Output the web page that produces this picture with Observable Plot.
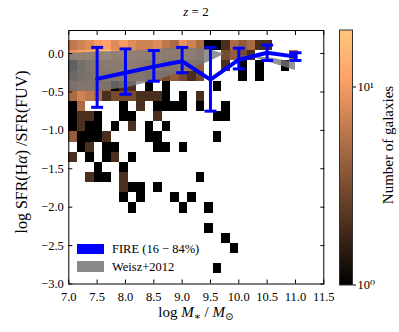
<!DOCTYPE html>
<html><head><meta charset="utf-8">
<script src="https://cdn.jsdelivr.net/npm/d3@7"></script>
<script src="https://cdn.jsdelivr.net/npm/@observablehq/plot@0.6"></script>
<style>
body{margin:0;background:#fff;}
#wrap{position:relative;width:399px;height:332px;font-family:"Liberation Serif","DejaVu Serif",serif;color:#000;overflow:hidden;}
#wrap svg{position:absolute;left:0;top:0;}
.lbl{position:absolute;white-space:nowrap;line-height:1;}
.lbl sub{font-size:0.7em;vertical-align:-0.25em;}
.patch{position:absolute;width:27px;height:10px;}
</style></head><body><div id="wrap"></div>
<script>
// ---- histogram bins ----
const xEdgeStart = 7.0, xBinWidth = 0.15;
const yEdgeStart = -3.0, yBinHeight = 0.132;
const topRowIndex = 23;
// counts per row, from row 23 (top) down to row 0; columns 0..26
const countRows = [
 [6,7,8,10,11,8,10,8,7,7,8,6,5,9,7,5,1,1,2,5,4,5,2,2,0,0,0],
 [9,10,12,11,18,10,12,10,9,9,8,7,7,9,8,6,0,0,3,4,3,2,0,0,0,0,5],
 [1,3,5,6,7,7,8,8,7,6,7,5,5,6,5,4,0,0,2,0,1,0,1,0,0,1,0],
 [2,3,4,5,5,6,5,5,5,4,4,3,4,3,2,3,0,0,0,0,1,0,1,0,0,0,0],
 [4,5,5,4,4,1,2,2,0,1,0,1,0,0,0,0,0,1,0,0,0,0,0,0,0,0,0],
 [5,7,6,5,2,3,3,3,2,2,2,1,0,1,0,2,0,0,0,0,0,0,0,0,0,0,0],
 [1,5,0,0,0,0,1,0,2,0,1,1,1,1,0,1,0,0,1,0,0,0,0,0,0,0,0],
 [1,2,2,1,0,0,1,1,0,0,2,0,0,0,0,0,0,1,1,0,0,0,0,0,0,0,0],
 [1,2,1,1,0,1,0,2,0,1,0,1,0,0,0,0,0,0,0,0,0,0,0,0,0,0,0],
 [4,1,1,1,2,0,0,0,0,1,1,0,0,0,0,0,0,1,0,0,0,0,0,0,0,0,0],
 [0,1,2,0,1,1,0,0,0,0,1,1,0,1,0,0,0,0,0,0,0,0,0,0,0,0,0],
 [2,0,1,0,1,2,0,1,0,0,0,0,0,0,0,0,0,0,0,0,0,0,0,0,0,0,0],
 [0,0,0,1,0,0,1,0,0,0,0,0,0,0,0,0,0,0,0,0,0,0,0,0,0,0,0],
 [0,0,2,1,1,0,2,0,0,0,0,0,0,0,0,1,0,0,0,0,0,0,0,0,0,0,0],
 [0,0,0,0,0,0,2,1,1,0,1,0,0,0,0,0,0,0,0,0,0,0,0,0,0,0,0],
 [0,0,0,0,0,0,1,0,1,0,0,0,1,0,1,0,0,0,0,0,0,0,0,0,0,0,0],
 [0,0,0,0,0,0,0,1,0,0,0,0,0,1,0,0,1,0,0,0,0,0,0,0,0,0,0],
 [0,0,0,0,0,0,0,0,0,0,0,0,0,0,0,0,0,0,0,0,0,0,0,0,0,0,0],
 [0,0,0,0,0,0,0,0,0,0,0,0,0,0,0,0,1,0,0,0,0,0,0,0,0,0,0],
 [0,0,0,0,0,0,0,0,0,0,0,0,0,0,0,0,0,0,1,0,0,0,0,0,0,0,0],
 [0,0,0,0,0,0,0,0,0,0,0,0,0,0,0,0,0,0,0,1,0,0,0,0,0,0,0],
 [0,0,0,0,0,0,0,0,0,0,0,0,0,0,0,0,0,0,0,0,0,0,0,0,0,0,0],
 [0,0,0,0,0,0,0,0,0,0,0,0,0,0,0,0,0,1,0,0,0,0,0,0,0,0,0],
 [0,0,0,0,0,0,0,0,0,0,0,0,0,0,0,0,0,0,0,0,0,0,0,0,0,0,0]
];
// ---- FIRE median and 16-84% ----
const fireX   = [7.5, 8.0, 8.5, 9.0, 9.5, 10.0, 10.5, 11.0];
const fireMed = [-0.33, -0.25, -0.17, -0.10, -0.34, -0.08, 0.01, -0.04];
const fireLo  = [-0.70, -0.53, -0.36, -0.25, -0.75, -0.20, -0.09, -0.09];
const fireHi  = [0.08, 0.06, 0.04, 0.08, 0.08, 0.07, 0.11, 0.01];
// ---- Weisz+2012 band ----
const weiszX  = [7.0, 7.5, 8.0, 8.5, 9.0, 9.5, 9.75, 10.0, 10.3, 10.6, 11.0];
const weiszHi = [0.00, 0.02, 0.03, 0.05, 0.08, 0.05, -0.01, -0.03, -0.04, -0.06, -0.12];
const weiszLo = [-0.49, -0.49, -0.45, -0.36, -0.24, -0.10, -0.01, -0.04, -0.06, -0.13, -0.22];
// ---- ticks ----
const xTicks = [7.0, 7.5, 8.0, 8.5, 9.0, 9.5, 10.0, 10.5, 11.0, 11.5];
const yTicks = [0.0, -0.5, -1.0, -1.5, -2.0, -2.5, -3.0];
const cbTicks = [1, 10];
const cbTickLabels = ["10⁰", "10¹"];
const colorDomain = [1, 19.4];

const copper = t => `rgb(${Math.round(255*Math.min(1, t/0.809524))},${Math.round(255*0.7812*t)},${Math.round(255*0.4975*t)})`;

const cells = [];
countRows.forEach((row, r) => {
  const j = topRowIndex - r;
  row.forEach((c, i) => {
    if (c > 0) cells.push({
      x1: xEdgeStart + i*xBinWidth, x2: xEdgeStart + (i+1)*xBinWidth,
      y1: yEdgeStart + j*yBinHeight, y2: yEdgeStart + (j+1)*yBinHeight, count: c
    });
  });
});
const fire = fireX.map((x, k) => ({x, med: fireMed[k], lo: fireLo[k], hi: fireHi[k]}));
const weisz = weiszX.map((x, k) => ({x, lo: weiszLo[k], hi: weiszHi[k]}));

const capSymbol = {draw(ctx, size) { const r = 6; ctx.moveTo(-r, 0); ctx.lineTo(r, 0); }};
const fmt = d3.format(".1f");
const blank = () => "";
const font = {fontFamily: "Liberation Serif, DejaVu Serif, serif", fontSize: "12.5px", background: "transparent", overflow: "visible"};

const main = Plot.plot({
  width: 399, height: 332,
  marginTop: 30, marginBottom: 48.5, marginLeft: 68.3, marginRight: 75.7,
  style: font,
  x: {domain: [7, 11.5], label: null},
  y: {domain: [-3, 0.3], label: null},
  color: {type: "log", domain: colorDomain, interpolate: copper},
  marks: [
    Plot.rect(cells, {x1: "x1", x2: "x2", y1: "y1", y2: "y2", fill: "count", shapeRendering: "crispEdges"}),
    Plot.areaY(weisz, {x: "x", y1: "lo", y2: "hi", fill: "#787878", fillOpacity: 0.8}),
    Plot.ruleX(fire, {x: "x", y1: "lo", y2: "hi", stroke: "#0000ff", strokeWidth: 3}),
    Plot.dot(fire, {x: "x", y: "lo", symbol: capSymbol, stroke: "#0000ff", strokeWidth: 3, r: 6}),
    Plot.dot(fire, {x: "x", y: "hi", symbol: capSymbol, stroke: "#0000ff", strokeWidth: 3, r: 6}),
    Plot.line(fire, {x: "x", y: "med", stroke: "#0000ff", strokeWidth: 4}),
    Plot.frame({stroke: "#000", strokeWidth: 1}),
    Plot.axisX({anchor: "bottom", ticks: xTicks, tickFormat: fmt, tickSize: -4, tickPadding: 12, label: null}),
    Plot.axisX({anchor: "top", ticks: xTicks, tickFormat: blank, tickSize: -4, label: null}),
    Plot.axisY({anchor: "left", ticks: yTicks, tickFormat: fmt, tickSize: -4, tickPadding: 9, label: null}),
    Plot.axisY({anchor: "right", ticks: yTicks, tickFormat: blank, tickSize: -4, label: null})
  ]
});

const cbStops = d3.range(128).map(k => {
  const a = Math.pow(colorDomain[1], k/128), b = Math.pow(colorDomain[1], (k+1)/128);
  return {y1: a, y2: b, v: Math.sqrt(a*b)};
});
const cbar = Plot.plot({
  width: 399, height: 332,
  marginTop: 29.5, marginBottom: 47.5, marginLeft: 339, marginRight: 47,
  style: font,
  y: {type: "log", domain: colorDomain, label: null},
  color: {type: "log", domain: colorDomain, interpolate: copper},
  marks: [
    Plot.rect(cbStops, {y1: "y1", y2: "y2", fill: "v", shapeRendering: "crispEdges"}),
    Plot.frame({stroke: "#333", strokeWidth: 1}),
    Plot.axisY({anchor: "right", ticks: cbTicks, tickFormat: (d, i) => cbTickLabels[cbTicks.indexOf(d)], tickSize: 3, tickPadding: 2, label: null})
  ]
});

const wrap = document.getElementById("wrap");
wrap.appendChild(main);
wrap.appendChild(cbar);

function addLabel(html, css) {
  const d = document.createElement("div");
  d.className = "lbl";
  d.innerHTML = html;
  Object.assign(d.style, css);
  wrap.appendChild(d);
}
addLabel("<i>z</i> = 2", {left: "196px", top: "5px", fontSize: "13px", transform: "translateX(-50%)"});
addLabel("log <i>M</i><sub>∗</sub> / <i>M</i><sub>⊙</sub>", {left: "196px", top: "305px", fontSize: "15px", transform: "translateX(-50%)"});
addLabel("log SFR(H<i>α</i>) /SFR(FUV)", {left: "22px", top: "152px", fontSize: "16px", transform: "translate(-50%,-50%) rotate(-90deg)"});
addLabel("Number of galaxies", {left: "388px", top: "145px", fontSize: "15px", transform: "translate(-50%,-50%) rotate(-90deg)"});
// legend
const p1 = document.createElement("div"); p1.className = "patch"; Object.assign(p1.style, {left: "77px", top: "244px", background: "#0000ff"}); wrap.appendChild(p1);
const p2 = document.createElement("div"); p2.className = "patch"; Object.assign(p2.style, {left: "77px", top: "261px", height: "11px", background: "#8a8a8a"}); wrap.appendChild(p2);
addLabel("FIRE (16 − 84%)", {left: "112px", top: "249px", fontSize: "12.5px", transform: "translateY(-50%)"});
addLabel("Weisz+2012", {left: "112px", top: "266.5px", fontSize: "12.5px", transform: "translateY(-50%)"});
</script></body></html>
